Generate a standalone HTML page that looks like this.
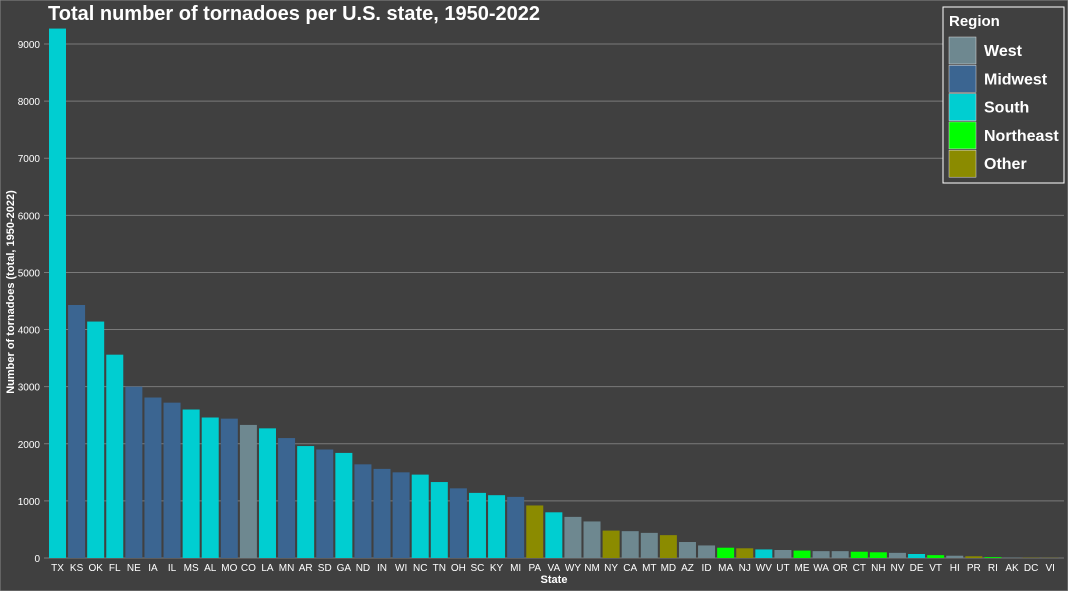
<!DOCTYPE html>
<html><head><meta charset="utf-8"><style>
body{margin:0;background:#404040;}
svg{display:block;font-family:"Liberation Sans",sans-serif;}
</style></head><body>
<svg width="1068" height="591">
<rect x="0" y="0" width="1068" height="591" fill="#404040" stroke="#888"/>
<text x="48" y="20" fill="#fff" font-size="20" font-weight="bold">Total number of tornadoes per U.S. state, 1950-2022</text>
<g id="grid"></g><g id="bars"></g><g id="xt"></g>
<text x="14" y="292" fill="#fff" font-size="11" font-weight="bold" text-anchor="middle" transform="rotate(-90 14 292)">Number of tornadoes (total, 1950-2022)</text>
<text x="554" y="583" fill="#fff" font-size="11" font-weight="bold" text-anchor="middle">State</text>
<g>
<rect x="943" y="7" width="121" height="176" fill="#404040" stroke="#fff" stroke-width="1"/>
<text x="949" y="26" fill="#fff" font-size="15" font-weight="bold">Region</text>
<g id="leg"></g></g>
</svg>
<script>
const states=["TX","KS","OK","FL","NE","IA","IL","MS","AL","MO","CO","LA","MN","AR","SD","GA","ND","IN","WI","NC","TN","OH","SC","KY","MI","PA","VA","WY","NM","NY","CA","MT","MD","AZ","ID","MA","NJ","WV","UT","ME","WA","OR","CT","NH","NV","DE","VT","HI","PR","RI","AK","DC","VI"];
const counts=[9270,4430,4140,3560,3000,2810,2720,2600,2460,2440,2330,2270,2100,1960,1900,1840,1640,1560,1500,1460,1330,1220,1140,1100,1070,920,800,720,640,480,470,440,400,280,220,180,170,150,140,130,120,120,110,100,90,70,50,40,30,15,8,5,3];
const regions=["S","M","S","S","M","M","M","S","S","M","W","S","M","S","M","S","M","M","M","S","S","M","S","S","M","O","S","W","W","O","W","W","O","W","W","N","O","S","W","N","W","W","N","N","W","S","N","W","O","N","W","O","O"];
const yTicks=[0,1000,2000,3000,4000,5000,6000,7000,8000,9000];
const legendNames=["West","Midwest","South","Northeast","Other"];
const colors={W:"#6e8890",M:"#3b6591",S:"#00ced1",N:"#00ff00",O:"#8b8b00"};
const legKeys=["W","M","S","N","O"];
const NS="http://www.w3.org/2000/svg";
const y0=558,pxPer=(558-44)/9000;
const y=v=>y0-v*pxPer;
const x=i=>57.5+i*19.09;
function mk(t,a,p){const e=document.createElementNS(NS,t);for(const k in a)e.setAttribute(k,a[k]);p.appendChild(e);return e;}
const grid=document.getElementById("grid"),bars=document.getElementById("bars"),xt=document.getElementById("xt"),leg=document.getElementById("leg");
yTicks.forEach(v=>{
 const l=mk("line",{x1:44,x2:1064,y1:y(v),y2:y(v),stroke:"#7a7a7a","stroke-width":1},grid);
 
 
 const t=mk("text",{x:40,y:y(v)+4,fill:"#fff","font-size":10,"text-anchor":"end"},grid);t.textContent=v;
 
 
});
states.forEach((s,i)=>{
 const b=mk("rect",{x:x(i)-8.5,y:y(counts[i]),width:17,height:counts[i]*pxPer,fill:colors[regions[i]]},bars);
 
 
 const t=mk("text",{x:x(i),y:571,fill:"#fff","font-size":10,"text-anchor":"middle"},xt);t.textContent=s;
 
 
});
legendNames.forEach((n,i)=>{
 const yy=37+i*28.3;
 const r=mk("rect",{x:949,y:yy,width:27,height:27,fill:colors[legKeys[i]],stroke:"#ddd","stroke-width":0.5},leg);
 
 
 const t=mk("text",{x:984,y:yy+19,fill:"#fff","font-size":16,"font-weight":"bold"},leg);t.textContent=n;
 
 
});
</script>
</body></html>
